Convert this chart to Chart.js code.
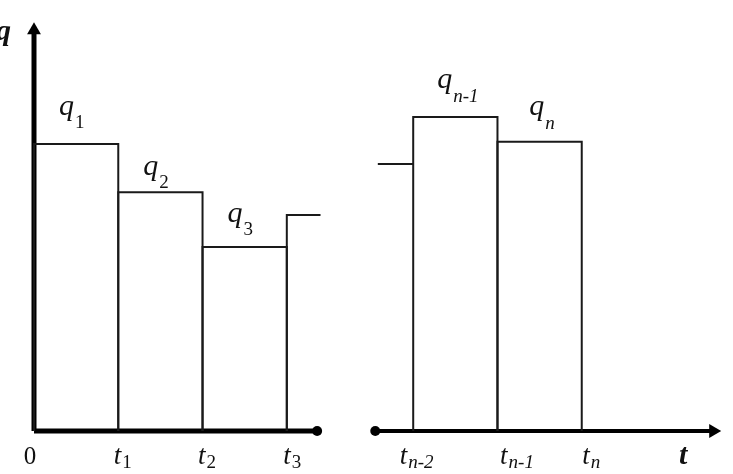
<!DOCTYPE html>
<html>
<head>
<meta charset="utf-8">
<script src="https://cdn.jsdelivr.net/npm/chart.js@4"></script>
<style>
  html, body { margin: 0; padding: 0; background: #fff; }
  #wrap { width: 733px; height: 474px; }
</style>
</head>
<body>
<div id="wrap"><canvas id="chart" width="733" height="474"></canvas></div>
<script>
// breakpoints on the time axis (in units of one interval)
const leftTimes = [0, 1, 2, 3];
const rightTimes = [4.5, 5.5, 6.5];
// step heights
const leftQ = [7.02, 5.84, 4.5];
const rightQ = [7.68, 7.07];
// partial steps at the cut of the time axis
const leftTailQ = 5.28;
const leftTailEnd = 3.4;
const rightHeadQ = 6.53;
const rightHeadStart = 4.08;
// axis extents
const yAxisTop = 9.8;
const xAxisBreak = [3.36, 4.05];
const xAxisEnd = 8.06;

// labels
const leftTickLabels = [['0', ''], ['t', '1'], ['t', '2'], ['t', '3']];
const rightTickLabels = [['t', 'n-2'], ['t', 'n-1'], ['t', 'n']];
const leftQLabels = [['q', '1'], ['q', '2'], ['q', '3']];
const rightQLabels = [['q', 'n-1'], ['q', 'n']];

const LINE = '#1a1a1a';

function barPoints(times, qs) {
  const sets = [];
  qs.forEach((q, i) => {
    sets.push([
      { x: times[i], y: 0 },
      { x: times[i], y: q },
      { x: times[i + 1], y: q },
      { x: times[i + 1], y: 0 },
    ]);
  });
  return sets;
}

const datasets = [];
barPoints(leftTimes, leftQ).concat(barPoints(rightTimes, rightQ)).forEach((pts) => {
  datasets.push({ data: pts, borderColor: LINE, borderWidth: 2, pointRadius: 0 });
});
datasets.push({
  data: [{ x: leftTimes[3], y: 0 }, { x: leftTimes[3], y: leftTailQ }, { x: leftTailEnd, y: leftTailQ }],
  borderColor: LINE, borderWidth: 2, pointRadius: 0,
});
datasets.push({
  data: [{ x: rightHeadStart, y: rightHeadQ }, { x: rightTimes[0], y: rightHeadQ }],
  borderColor: LINE, borderWidth: 2, pointRadius: 0,
});
// axes
datasets.push({
  data: [{ x: 0, y: 0 }, { x: 0, y: yAxisTop }],
  borderColor: '#000', borderWidth: 5,
  pointRadius: [0, 8], pointStyle: 'triangle', pointRotation: 0,
  pointBackgroundColor: '#000', pointBorderColor: '#000', pointBorderWidth: 0,
});
datasets.push({
  data: [{ x: 0, y: 0 }, { x: xAxisBreak[0], y: 0 }],
  borderColor: '#000', borderWidth: 5,
  pointRadius: [0, 5], pointStyle: 'circle',
  pointBackgroundColor: '#000', pointBorderColor: '#000', pointBorderWidth: 0,
});
datasets.push({
  data: [{ x: xAxisBreak[1], y: 0 }, { x: xAxisEnd, y: 0 }],
  borderColor: '#000', borderWidth: 4,
  pointRadius: [5, 8], pointStyle: ['circle', 'triangle'], pointRotation: [0, 90],
  pointBackgroundColor: '#000', pointBorderColor: '#000', pointBorderWidth: 0,
});

function drawSubLabel(ctx, x, y, main, sub, mainFont, subFont, subDy, centered) {
  ctx.font = mainFont;
  const w1 = ctx.measureText(main).width;
  ctx.font = subFont;
  const w2 = sub ? ctx.measureText(sub).width : 0;
  const x0 = centered ? x - (w1 + w2) / 2 : x;
  ctx.font = mainFont;
  ctx.fillText(main, x0, y);
  if (sub) {
    ctx.font = subFont;
    ctx.fillText(sub, x0 + w1 + 1, y + subDy);
  }
}

const labelPlugin = {
  id: 'labels',
  afterDraw(chart) {
    const { ctx, scales } = chart;
    const xs = scales.x, ys = scales.y;
    ctx.save();
    ctx.fillStyle = '#111';
    ctx.textAlign = 'left';
    ctx.textBaseline = 'alphabetic';
    const serif = '"Liberation Serif", "DejaVu Serif", serif';

    // q labels above each step
    const qDy = [29, 17, 25];
    leftQLabels.forEach((l, i) => {
      const cx = xs.getPixelForValue((leftTimes[i] + leftTimes[i + 1]) / 2) - 5;
      const y = ys.getPixelForValue(leftQ[i]) - qDy[i];
      drawSubLabel(ctx, cx, y, l[0], l[1], 'italic 30px ' + serif, '19px ' + serif, 13, true);
    });
    const qDyR = [29, 27];
    rightQLabels.forEach((l, i) => {
      const cx = xs.getPixelForValue((rightTimes[i] + rightTimes[i + 1]) / 2) + 2;
      const y = ys.getPixelForValue(rightQ[i]) - qDyR[i];
      drawSubLabel(ctx, cx, y, l[0], l[1], 'italic 30px ' + serif, 'italic 19px ' + serif, 14, true);
    });

    // tick labels under the time axis
    const base = ys.getPixelForValue(0) + 33;
    const tDx = [-4, 4, 4, 5];
    leftTickLabels.forEach((l, i) => {
      const cx = xs.getPixelForValue(leftTimes[i]) + tDx[i];
      const mf = l[0] === '0' ? '25px ' + serif : 'italic 27px ' + serif;
      drawSubLabel(ctx, cx, base, l[0], l[1], mf, '19px ' + serif, 4, true);
    });
    const tDxR = [3, 19, 9];
    rightTickLabels.forEach((l, i) => {
      const cx = xs.getPixelForValue(rightTimes[i]) + tDxR[i];
      drawSubLabel(ctx, cx, base, l[0], l[1], 'italic 27px ' + serif, 'italic 19px ' + serif, 4, true);
    });

    // axis names
    ctx.font = 'bold italic 30px ' + serif;
    ctx.fillText('q', -4, 40);
    ctx.fillText('t', 679, base);
    ctx.restore();
  },
};

new Chart(document.getElementById('chart'), {
  type: 'scatter',
  data: { datasets },
  options: {
    responsive: false,
    animation: false,
    devicePixelRatio: 1,
    showLine: true,
    clip: false,
    layout: { padding: { left: 34, right: 7.7, top: 22, bottom: 43 } },
    elements: { line: { tension: 0, borderCapStyle: 'butt', borderJoinStyle: 'miter' } },
    plugins: { legend: { display: false }, tooltip: { enabled: false } },
    scales: {
      x: { type: 'linear', display: false, min: 0, max: 8.2 },
      y: { type: 'linear', display: false, min: 0, max: 10 },
    },
  },
  plugins: [labelPlugin],
});
</script>
</body>
</html>
